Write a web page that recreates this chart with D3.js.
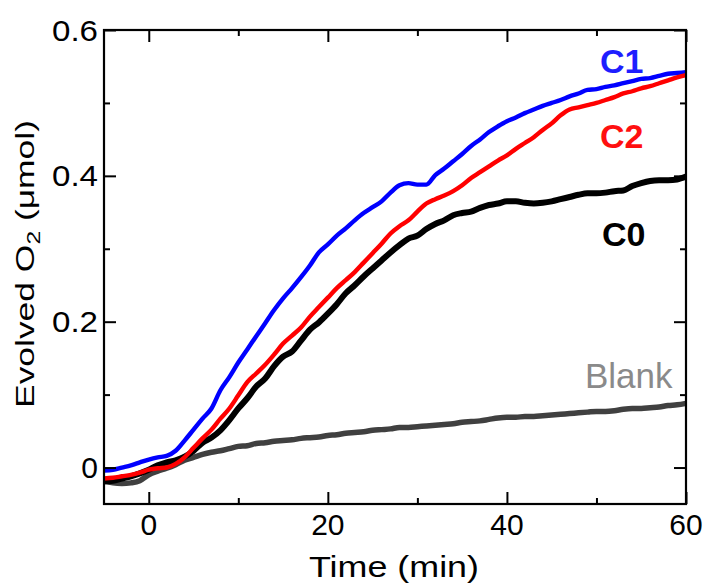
<!DOCTYPE html>
<html>
<head>
<meta charset="utf-8">
<script src="https://cdn.jsdelivr.net/npm/d3@7"></script>
<style>
  html, body { margin: 0; padding: 0; background: #fff; }
  svg { display: block; font-family: "Liberation Sans", Arial, sans-serif; }
</style>
</head>
<body>
<svg id="chart" width="712" height="587"></svg>
<script>
// ---- Data ----
const time = d3.range(-5, 61); // minutes, -5 .. 60

const c1 = [-0.004,-0.003,0.000,0.003,0.007,0.011,0.014,0.016,0.023,0.037,
  0.052,0.067,0.081,0.106,0.124,0.144,0.162,0.180,0.198,0.216,
  0.232,0.246,0.261,0.277,0.295,0.306,0.318,0.328,0.339,0.349,
  0.357,0.365,0.377,0.387,0.390,0.388,0.388,0.401,0.410,0.420,
  0.430,0.441,0.450,0.460,0.468,0.475,0.480,0.486,0.491,0.496,
  0.500,0.504,0.509,0.513,0.518,0.519,0.522,0.524,0.527,0.530,
  0.533,0.534,0.537,0.540,0.541,0.542];

const c2 = [-0.015,-0.014,-0.012,-0.010,-0.007,-0.003,-0.001,0.000,0.005,0.014,
  0.027,0.040,0.052,0.067,0.081,0.099,0.117,0.129,0.141,0.155,
  0.170,0.181,0.192,0.207,0.220,0.233,0.246,0.257,0.268,0.281,
  0.294,0.307,0.321,0.331,0.339,0.351,0.362,0.368,0.373,0.379,
  0.387,0.397,0.405,0.413,0.421,0.428,0.437,0.445,0.453,0.463,
  0.472,0.483,0.491,0.494,0.497,0.500,0.504,0.508,0.513,0.516,
  0.520,0.523,0.527,0.531,0.535,0.538];

const c0 = [-0.019,-0.018,-0.015,-0.012,-0.008,-0.003,0.003,0.007,0.010,0.015,
  0.023,0.034,0.041,0.051,0.065,0.081,0.095,0.111,0.122,0.139,
  0.152,0.159,0.174,0.189,0.199,0.211,0.224,0.239,0.250,0.262,
  0.273,0.284,0.295,0.305,0.314,0.318,0.327,0.334,0.339,0.346,
  0.349,0.351,0.356,0.360,0.362,0.365,0.365,0.363,0.362,0.363,
  0.365,0.368,0.371,0.374,0.376,0.376,0.377,0.379,0.380,0.386,
  0.390,0.393,0.394,0.394,0.395,0.399];

const blank = [-0.018,-0.021,-0.022,-0.021,-0.018,-0.010,-0.005,-0.001,0.004,0.010,
  0.014,0.018,0.021,0.023,0.026,0.029,0.030,0.033,0.034,0.036,
  0.037,0.038,0.040,0.041,0.042,0.044,0.045,0.047,0.048,0.049,
  0.051,0.052,0.053,0.055,0.055,0.056,0.057,0.058,0.059,0.060,
  0.062,0.063,0.064,0.066,0.068,0.069,0.069,0.070,0.070,0.071,
  0.072,0.073,0.074,0.075,0.076,0.077,0.077,0.078,0.080,0.081,
  0.081,0.082,0.083,0.085,0.086,0.088];

const seriesNames = ["Blank", "C0", "C1", "C2"];
const seriesValues = [blank, c0, c1, c2];
const seriesColors = ["#404040", "#000000", "#0000ff", "#ff0000"];
const seriesWidths = [5.5, 6, 4.4, 4.4];

const xMajorTicks = [0, 20, 40, 60];
const xMinorTicks = [10, 30, 50];
const yMajorTicks = [0, 0.2, 0.4, 0.6];
const yMinorTicks = [0.1, 0.3, 0.5];
const yTickLabels = ["0", "0.2", "0.4", "0.6"];

const labelText = ["C1", "C2", "C0", "Blank"];
const labelColors = ["#1e1eff", "#ff1010", "#000000", "#8a8a8a"];

// ---- Layout ----
const svg = d3.select("#chart");
const L = 104, R = 686, T = 30, B = 504;
const x = d3.scaleLinear().domain([-5, 60]).range([L, R]);
const y = d3.scaleLinear().domain([-0.05, 0.6]).range([B, T]);

// Lines
const line = d3.line()
  .x(d => x(d[0]))
  .y(d => y(d[1]))
  .curve(d3.curveMonotoneX);

const plot = svg.append("g");

seriesValues.forEach((vals, i) => {
  plot.append("path")
    .datum(time.map((t, k) => [t, vals[k]]))
    .attr("fill", "none")
    .attr("stroke", seriesColors[i])
    .attr("stroke-width", seriesWidths[i])
    .attr("stroke-linejoin", "round")
    .attr("d", line);
});

// Axes with inward ticks on all four sides
const major = 12, minor = 6;
function addAxis(axisFn, scale, ticks, size, transform) {
  const g = svg.append("g").attr("transform", transform)
    .call(axisFn(scale).tickValues(ticks).tickSize(size).tickFormat(""));
  g.selectAll(".domain").remove();
  g.selectAll(".tick line").attr("stroke", "#000").attr("stroke-width", 2);
  return g;
}
addAxis(d3.axisTop, x, xMajorTicks, major, `translate(0,${B})`);
addAxis(d3.axisTop, x, xMinorTicks, minor, `translate(0,${B})`);
addAxis(d3.axisBottom, x, xMajorTicks, major, `translate(0,${T})`);
addAxis(d3.axisBottom, x, xMinorTicks, minor, `translate(0,${T})`);
addAxis(d3.axisRight, y, yMajorTicks, major, `translate(${L},0)`);
addAxis(d3.axisRight, y, yMinorTicks, minor, `translate(${L},0)`);
addAxis(d3.axisLeft, y, yMajorTicks, major, `translate(${R},0)`);
addAxis(d3.axisLeft, y, yMinorTicks, minor, `translate(${R},0)`);

// Frame
svg.append("rect")
  .attr("x", L).attr("y", T).attr("width", R - L).attr("height", B - T)
  .attr("fill", "none").attr("stroke", "#000").attr("stroke-width", 2.2);

// Tick labels
svg.append("g").selectAll("text").data(xMajorTicks).join("text")
  .attr("x", d => x(d)).attr("y", 535)
  .attr("text-anchor", "middle")
  .attr("font-size", 30)
  .attr("fill", "#000")
  .text(d => d);

svg.append("g").selectAll("text").data(yMajorTicks).join("text")
  .attr("x", 98).attr("y", d => y(d) + 10.5)
  .attr("text-anchor", "end")
  .attr("font-size", 30)
  .attr("fill", "#000")
  .each(function(d, i) {
    const s = yTickLabels[i];
    d3.select(this).text(s);
    if (s.length > 1) d3.select(this).attr("textLength", 46).attr("lengthAdjust", "spacingAndGlyphs");
  });

// Axis titles
svg.append("text")
  .attr("x", 394).attr("y", 577)
  .attr("text-anchor", "middle")
  .attr("font-size", 30)
  .attr("textLength", 170).attr("lengthAdjust", "spacingAndGlyphs")
  .text("Time (min)");

const yt = svg.append("text")
  .attr("transform", "translate(34,264) rotate(-90)")
  .attr("text-anchor", "middle")
  .attr("font-size", 26)
  .attr("textLength", 288).attr("lengthAdjust", "spacingAndGlyphs");
yt.append("tspan").text("Evolved O");
yt.append("tspan").attr("font-size", 18).attr("dy", 6).text("2");
yt.append("tspan").attr("dy", -6).text(" (μmol)");

// Series labels
const labelX = [600, 600, 602, 585];
const labelY = [73, 148, 246, 388];
const labelWeight = ["bold", "bold", "bold", "normal"];
labelText.forEach((s, i) => {
  svg.append("text")
    .attr("x", labelX[i]).attr("y", labelY[i])
    .attr("font-size", i === 3 ? 35 : 34)
    .attr("font-weight", labelWeight[i])
    .attr("fill", labelColors[i])
    .text(s);
});
</script>
</body>
</html>
